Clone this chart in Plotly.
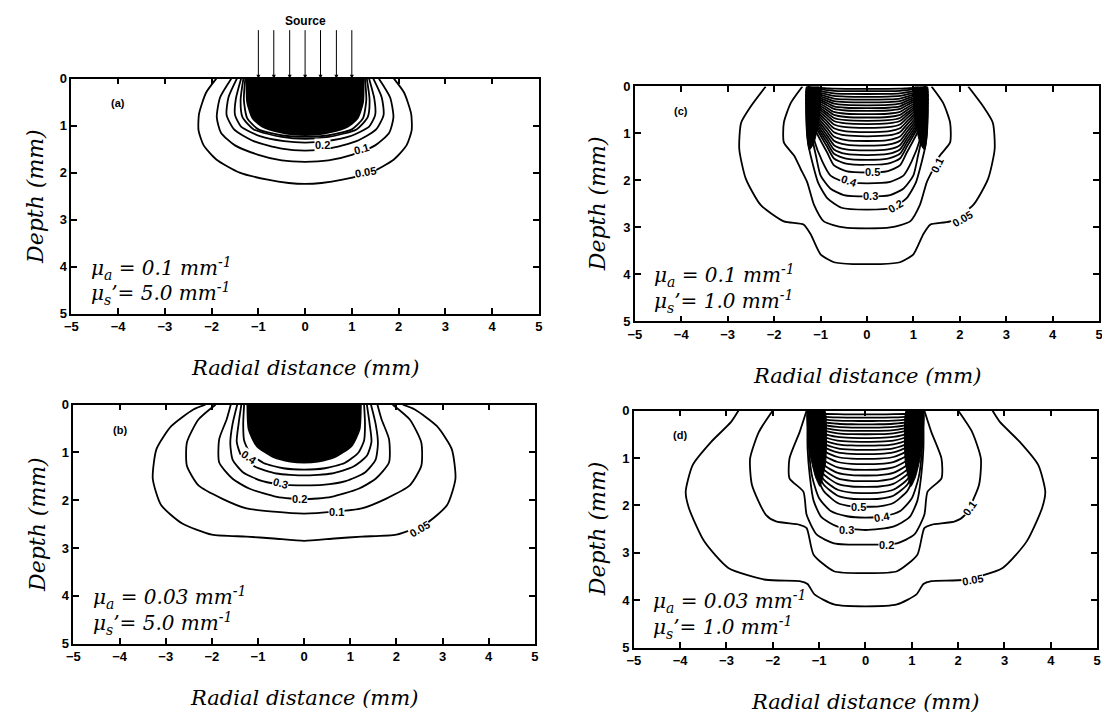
import plotly.graph_objects as go

W, H = 1110, 719
OFF = 8  # the page body adds an 8 px margin; compensate

# ---------------- data ----------------
X_TICKS = [-5, -4, -3, -2, -1, 0, 1, 2, 3, 4, 5]
X_TICKTEXT = ["\u22125", "\u22124", "\u22123", "\u22122", "\u22121", "0", "1", "2", "3", "4", "5"]
Y_TICKS = [0, 1, 2, 3, 4, 5]
Y_TICKTEXT = ["0", "1", "2", "3", "4", "5"]

SOURCE_X = [-1.0, -0.67, -0.33, 0.0, 0.33, 0.67, 1.0]

# each contour: right-half radial positions (mm) from surface to axis, and depths (mm)
# panel (a)  mu_a = 0.1, mu_s' = 5.0
a_005_r = [1.9, 2.12, 2.27, 2.28, 2.17, 1.9, 1.4, 0.8, 0.35, 0.0]
a_005_z = [0.0, 0.3, 0.75, 1.1, 1.42, 1.72, 2.0, 2.15, 2.22, 2.24]
a_01_r = [1.58, 1.82, 1.89, 1.8, 1.5, 1.0, 0.5, 0.0]
a_01_z = [0.0, 0.4, 0.82, 1.15, 1.42, 1.62, 1.74, 1.77]
a_02_r = [1.46, 1.64, 1.68, 1.52, 1.1, 0.5, 0.0]
a_02_z = [0.0, 0.4, 0.77, 1.08, 1.33, 1.49, 1.53]
a_03_r = [1.37, 1.48, 1.5, 1.37, 0.95, 0.45, 0.0]
a_03_z = [0.0, 0.42, 0.77, 1.02, 1.23, 1.33, 1.36]
a_04_r = [1.32, 1.38, 1.34, 1.1, 0.5, 0.0]
a_04_z = [0.0, 0.45, 0.82, 1.08, 1.24, 1.28]
a_05_r = [1.28, 1.31, 1.24, 1.0, 0.48, 0.0]
a_05_z = [0.0, 0.45, 0.84, 1.08, 1.21, 1.24]
a_core_r = [1.25, 1.24, 1.12, 0.88, 0.55, 0.25, 0.0]
a_core_z = [0.0, 0.5, 0.85, 1.04, 1.14, 1.19, 1.2]

# panel (b)  mu_a = 0.03, mu_s' = 5.0
b_005_r = [2.14, 2.4, 2.88, 3.2, 3.28, 3.1, 2.65, 2.0, 1.25, 0.66, 0.0]
b_005_z = [0.0, 0.1, 0.45, 0.93, 1.55, 2.1, 2.48, 2.72, 2.76, 2.8, 2.85]
b_01_r = [1.92, 2.29, 2.54, 2.54, 2.29, 1.77, 1.25, 0.66, 0.0]
b_01_z = [0.0, 0.31, 0.79, 1.28, 1.69, 1.97, 2.17, 2.24, 2.28]
b_02_r = [1.59, 1.68, 1.84, 1.84, 1.55, 1.18, 0.59, 0.0]
b_02_z = [0.0, 0.31, 0.72, 1.21, 1.55, 1.76, 1.93, 1.98]
b_03_r = [1.45, 1.55, 1.6, 1.55, 1.32, 0.9, 0.4, 0.0]
b_03_z = [0.0, 0.4, 0.8, 1.15, 1.42, 1.6, 1.68, 1.69]
b_04_r = [1.36, 1.42, 1.46, 1.36, 1.06, 0.6, 0.0]
b_04_z = [0.0, 0.4, 0.78, 1.07, 1.3, 1.44, 1.48]
b_05_r = [1.3, 1.32, 1.3, 1.18, 0.88, 0.45, 0.0]
b_05_z = [0.0, 0.4, 0.75, 1.0, 1.22, 1.33, 1.36]
b_core_r = [1.23, 1.2, 1.03, 0.66, 0.3, 0.0]
b_core_z = [0.0, 0.52, 0.86, 1.1, 1.19, 1.21]

# panel (c)  mu_a = 0.1, mu_s' = 1.0
c_005_r = [2.18, 2.5, 2.71, 2.75, 2.61, 2.29, 1.79, 1.36, 1.21, 1.0, 0.71, 0.3, 0.0]
c_005_z = [0.0, 0.42, 0.77, 1.33, 1.96, 2.52, 2.87, 2.94, 3.15, 3.57, 3.74, 3.78, 3.78]
c_01_r = [1.39, 1.64, 1.79, 1.79, 1.57, 1.43, 1.29, 1.14, 0.93, 0.5, 0.0]
c_01_z = [0.0, 0.35, 0.77, 1.19, 1.47, 1.75, 2.03, 2.52, 2.87, 3.0, 3.02]
c_02_r = [1.28, 1.3, 1.27, 1.18, 1.05, 0.85, 0.55, 0.0]
c_02_z = [0.0, 0.6, 1.2, 1.6, 2.05, 2.38, 2.58, 2.62]
c_03_r = [1.27, 1.27, 1.2, 1.1, 1.0, 0.79, 0.5, 0.0]
c_03_z = [0.0, 0.6, 1.0, 1.47, 1.89, 2.17, 2.31, 2.34]
c_04_r = [1.26, 1.25, 1.15, 0.96, 0.79, 0.5, 0.0]
c_04_z = [0.0, 0.6, 1.1, 1.6, 1.89, 2.03, 2.06]
c_05_r = [1.25, 1.22, 1.1, 0.86, 0.71, 0.45, 0.0]
c_05_z = [0.0, 0.5, 0.95, 1.4, 1.68, 1.8, 1.83]
c_inner_depth = [1.67, 1.56, 1.46, 1.36, 1.26, 1.16, 1.06, 0.97, 0.88, 0.8, 0.73,
                 0.66, 0.59, 0.52, 0.46, 0.4, 0.34, 0.28, 0.22, 0.16, 0.1, 0.05]
c_band_r = [1.03, 1.3, 1.32, 1.3, 1.24, 1.14, 1.05, 1.0]
c_band_z = [0.0, 0.0, 0.5, 1.0, 1.35, 1.2, 0.8, 0.4]

# panel (d)  mu_a = 0.03, mu_s' = 1.0
d_005_r = [2.74, 2.9, 3.33, 3.73, 3.88, 3.81, 3.48, 2.96, 2.15, 1.42, 1.25, 1.1, 0.68, 0.0]
d_005_z = [0.0, 0.24, 0.66, 1.15, 1.71, 2.06, 2.76, 3.32, 3.57, 3.6, 3.66, 3.88, 4.09, 4.13]
d_01_r = [2.0, 2.3, 2.49, 2.45, 2.15, 1.93, 1.42, 1.27, 1.12, 0.68, 0.0]
d_01_z = [0.0, 0.45, 1.01, 1.57, 2.2, 2.34, 2.41, 2.48, 3.04, 3.39, 3.43]
d_02_r = [1.27, 1.42, 1.64, 1.64, 1.34, 1.27, 1.05, 0.68, 0.0]
d_02_z = [0.0, 0.45, 1.01, 1.43, 1.71, 2.2, 2.62, 2.8, 2.83]
d_03_r = [1.25, 1.25, 1.2, 1.12, 0.95, 0.6, 0.0]
d_03_z = [0.0, 0.8, 1.4, 1.9, 2.25, 2.45, 2.52]
d_04_r = [1.23, 1.22, 1.15, 1.0, 0.75, 0.4, 0.0]
d_04_z = [0.0, 0.8, 1.4, 1.85, 2.12, 2.23, 2.26]
d_05_r = [1.2, 1.18, 1.08, 0.9, 0.6, 0.3, 0.0]
d_05_z = [0.0, 0.7, 1.3, 1.7, 1.95, 2.02, 2.03]
d_inner_depth = [1.87, 1.74, 1.61, 1.49, 1.37, 1.25, 1.13, 1.02, 0.92, 0.83, 0.74,
                 0.66, 0.58, 0.5, 0.43, 0.36, 0.29, 0.22, 0.15, 0.08]
d_band_r = [0.88, 1.25, 1.24, 1.18, 1.08, 0.98, 0.86, 0.84]
d_band_z = [0.0, 0.0, 0.5, 1.0, 1.4, 1.6, 1.1, 0.5]

# contour labels: (text, radial, depth, angle)
a_labels = [("0.2", 0.37, 1.42, 0), ("0.1", 1.2, 1.5, -15), ("0.05", 1.3, 1.99, -10)]
b_labels = [("0.4", -1.2, 1.1, 35), ("0.3", -0.52, 1.64, 15), ("0.2", -0.1, 1.97, 0),
            ("0.1", 0.7, 2.24, 0), ("0.05", 2.5, 2.6, -30)]
c_labels = [("0.5", 0.12, 1.82, 0), ("0.4", -0.38, 2.02, 20), ("0.3", 0.08, 2.33, 0),
            ("0.2", 0.62, 2.55, -30), ("0.1", 1.52, 1.68, -65), ("0.05", 2.05, 2.82, -30)]
d_labels = [("0.5", -0.15, 2.03, 0), ("0.4", 0.36, 2.24, -10), ("0.3", -0.42, 2.52, 0),
            ("0.2", 0.46, 2.83, 0), ("0.1", 2.25, 2.06, -55), ("0.05", 2.3, 3.57, -10)]

# ---------------- layout geometry (pixels in the reference) ----------------
BOX = {  # left, right, top, bottom
    "a": (65, 537, 73, 313),
    "c": (634, 1103, 81, 321),
    "b": (67, 533, 406, 650),
    "d": (633, 1101, 412, 654),
}
AXES = {"a": ("x", "y"), "c": ("x2", "y2"), "b": ("x3", "y3"), "d": ("x4", "y4")}

SERIF = "DejaVu Serif, Liberation Serif, serif"
SANS = "Liberation Sans, Arial, Helvetica, sans-serif"
LINE_W = 1.8
fig = go.Figure()


def px_x(v):
    return (v - OFF) / W


def px_y(v):
    return 1 - (v - OFF) / H


def mirror(r, z):
    xs = [-v for v in r] + [v for v in reversed(r[:-1])]
    zs = list(z) + list(reversed(z[:-1]))
    return xs, zs


def add_line(key, r, z, fill=False, width=LINE_W):
    xa, ya = AXES[key]
    xs, zs = mirror(r, z)
    fig.add_trace(go.Scatter(
        x=xs, y=zs, mode="lines", xaxis=xa, yaxis=ya,
        line=dict(color="black", width=width, shape="spline", smoothing=0.6),
        fill="toself" if fill else None, fillcolor="black" if fill else None,
        showlegend=False, hoverinfo="skip"))


def add_band(key, r, z):
    xa, ya = AXES[key]
    for sgn in (1, -1):
        fig.add_trace(go.Scatter(
            x=[sgn * v for v in r] + [sgn * r[0]], y=list(z) + [z[0]],
            mode="lines", xaxis=xa, yaxis=ya, fill="toself", fillcolor="black",
            line=dict(color="black", width=1, shape="spline", smoothing=0.5),
            showlegend=False, hoverinfo="skip"))


def add_inner(key, depths, tmpl_r, tmpl_z):
    bottom = tmpl_z[-1]
    for d in depths:
        add_line(key, tmpl_r, [v / bottom * d for v in tmpl_z], width=1.8)


# panel (a)
for r, z in [(a_005_r, a_005_z), (a_01_r, a_01_z), (a_02_r, a_02_z), (a_03_r, a_03_z),
             (a_04_r, a_04_z), (a_05_r, a_05_z)]:
    add_line("a", r, z)
add_line("a", a_core_r, a_core_z, fill=True)

# panel (b)
for r, z in [(b_005_r, b_005_z), (b_01_r, b_01_z), (b_02_r, b_02_z), (b_03_r, b_03_z),
             (b_04_r, b_04_z), (b_05_r, b_05_z)]:
    add_line("b", r, z)
add_line("b", b_core_r, b_core_z, fill=True)

# panel (c)
for r, z in [(c_005_r, c_005_z), (c_01_r, c_01_z), (c_02_r, c_02_z), (c_03_r, c_03_z),
             (c_04_r, c_04_z), (c_05_r, c_05_z)]:
    add_line("c", r, z)
add_inner("c", c_inner_depth, c_05_r, c_05_z)
add_band("c", c_band_r, c_band_z)

# panel (d)
for r, z in [(d_005_r, d_005_z), (d_01_r, d_01_z), (d_02_r, d_02_z), (d_03_r, d_03_z),
             (d_04_r, d_04_z), (d_05_r, d_05_z)]:
    add_line("d", r, z)
add_inner("d", d_inner_depth, d_05_r, d_05_z)
add_band("d", d_band_r, d_band_z)

# ---------------- axes ----------------
tickfont = dict(family=SANS, size=13, color="black", weight="bold")
layout_axes = {}
for key, (l, r, t, b) in BOX.items():
    xa, ya = AXES[key]
    xname = "xaxis" if xa == "x" else "xaxis" + xa[1:]
    yname = "yaxis" if ya == "y" else "yaxis" + ya[1:]
    common = dict(ticks="inside", ticklen=6, tickwidth=1.5, tickcolor="black",
                  showline=True, linecolor="black", linewidth=1.5, mirror="ticks",
                  showgrid=False, zeroline=False, tickfont=tickfont, fixedrange=True)
    layout_axes[xname] = dict(domain=[px_x(l), px_x(r)], range=[-5, 5], anchor=ya,
                              tickvals=X_TICKS, ticktext=X_TICKTEXT, **common)
    layout_axes[yname] = dict(domain=[px_y(b), px_y(t)], range=[5, 0], anchor=xa,
                              tickvals=Y_TICKS, ticktext=Y_TICKTEXT, **common)

fig.update_layout(width=W, height=H, autosize=False, margin=dict(l=0, r=0, t=0, b=0),
                  paper_bgcolor="white", plot_bgcolor="white", **layout_axes)

# ---------------- annotations ----------------
ann = []
for key, (l, r, t, b) in BOX.items():
    cx = (l + r) / 2
    cy = (t + b) / 2
    ann.append(dict(text="<i>Radial distance (mm)</i>", xref="paper", yref="paper",
                    x=px_x(cx), y=px_y(b + 56), showarrow=False,
                    font=dict(family=SERIF, size=21, color="black"),
                    xanchor="center", yanchor="middle"))
    ann.append(dict(text="<i>Depth (mm)</i>", xref="paper", yref="paper",
                    x=px_x(l - 37), y=px_y(cy), showarrow=False, textangle=-90,
                    font=dict(family=SERIF, size=22, color="black"),
                    xanchor="center", yanchor="middle"))

MU = {
    "a": ("0.1", "5.0", "(a)"),
    "c": ("0.1", "1.0", "(c)"),
    "b": ("0.03", "5.0", "(b)"),
    "d": ("0.03", "1.0", "(d)"),
}
for key, (mua, mus, letter) in MU.items():
    xa, ya = AXES[key]
    ann.append(dict(text=f"<i>\u03bc<sub>a</sub> = {mua} mm<sup>-1</sup></i>", xref=xa, yref=ya,
                    x=-4.62, y=4.03, showarrow=False, xanchor="left", yanchor="middle",
                    font=dict(family=SERIF, size=20, color="black")))
    ann.append(dict(text=f"<i>\u03bc<sub>s</sub>\u2019= {mus} mm<sup>-1</sup></i>", xref=xa, yref=ya,
                    x=-4.62, y=4.58, showarrow=False, xanchor="left", yanchor="middle",
                    font=dict(family=SERIF, size=20, color="black")))
    ann.append(dict(text=f"<b>{letter}</b>", xref=xa, yref=ya, x=-4.0, y=0.52,
                    showarrow=False, font=dict(family=SANS, size=11, color="black")))

for key, labels in [("a", a_labels), ("b", b_labels), ("c", c_labels), ("d", d_labels)]:
    xa, ya = AXES[key]
    for txt, xr, zd, ang in labels:
        ann.append(dict(text=f"<b>{txt}</b>", xref=xa, yref=ya, x=xr, y=zd, showarrow=False,
                        textangle=ang, bgcolor="white", borderpad=0,
                        font=dict(family=SANS, size=11, color="black")))

for sx in SOURCE_X:
    ann.append(dict(text="", xref="x", yref="y", x=sx, y=0, ax=0, ay=-50,
                    showarrow=True, arrowhead=2, arrowsize=0.8, arrowwidth=1, arrowcolor="black"))
ann.append(dict(text="<b>Source</b>", xref="x", yref="paper", x=0, y=px_y(14),
                yanchor="middle", showarrow=False, font=dict(family=SANS, size=12, color="black")))

fig.update_layout(annotations=ann)
fig.write_html("out.html")
